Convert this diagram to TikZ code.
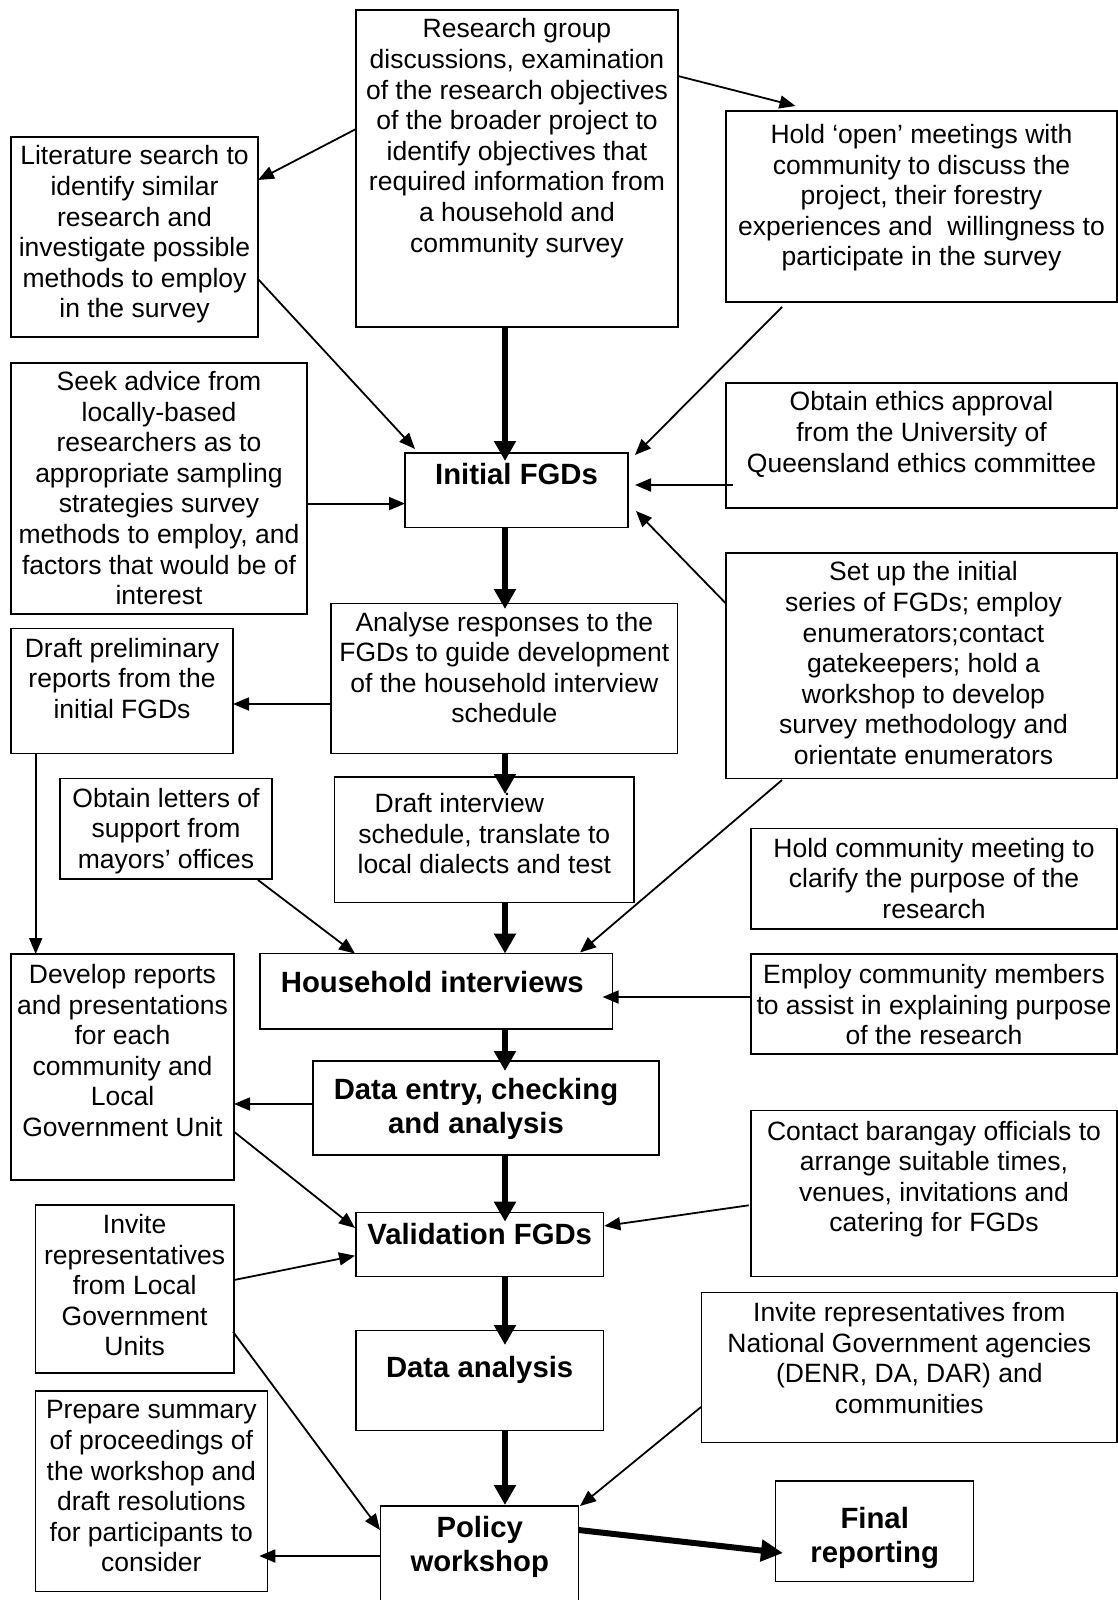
\documentclass[tikz,border=0pt]{standalone}
\usepackage{fontspec}
\setmainfont{Liberation Sans}
\usetikzlibrary{arrows.meta,calc}
\newcommand\mkbox[5]{%
 \pgfmathsetmacro\mkW{#4-#2}%
 \pgfmathsetmacro\mkH{#5-#3}%
 \pgfmathsetmacro\mkX{(#2+#4)/2}%
 \pgfmathsetmacro\mkY{(#3+#5)/2}%
 \node[box,minimum width=\mkW pt,minimum height=\mkH pt] (#1) at (\mkX,\mkY) {};}
\tikzset{
 box/.style={draw, line width=1.5pt, inner sep=0pt, outer sep=0pt, rectangle},
 txt/.style={anchor=north, inner sep=0pt, align=center, font=\fontsize{26.5}{30.6}\selectfont, execute at begin node={\rule{0pt}{20pt}}},
 btxt/.style={anchor=north, inner sep=0pt, align=center, font=\fontsize{29.3}{34}\selectfont\bfseries, execute at begin node={\rule{0pt}{22pt}}},
 thinarr/.style={line width=1.8pt, -{Triangle[length=16pt,width=13pt]}},
 thickarr/.style={line width=6pt, -{Triangle[length=20pt,width=21pt]}},
}
\begin{document}
\begin{tikzpicture}[x=1pt,y=-1pt]
\useasboundingbox (0,0) rectangle (1118,1600);
% boxes
\mkbox{research}{356}{10}{678}{327}
\mkbox{lit}{11}{137}{258}{337}
\mkbox{hold}{726}{111}{1117}{302}
\mkbox{seek}{11}{363}{307}{614}
\mkbox{initial}{405}{453}{628}{527.5}
\mkbox{ethics}{726}{383}{1117}{508}
\mkbox{setup}{726}{553}{1117}{778.6}
\mkbox{prelim}{11}{628.6}{233}{753.6}
\mkbox{analyse}{331}{603.6}{677.6}{753.6}
\mkbox{letters}{60}{778.6}{272}{879}
\mkbox{draftint}{334.6}{777}{634}{902.5}
\mkbox{holdcomm}{751}{828.6}{1117}{929}
\mkbox{household}{260}{953.6}{612.6}{1029}
\mkbox{develop}{11}{954}{234}{1180}
\mkbox{employ}{751}{954}{1117}{1054}
\mkbox{dataentry}{313}{1061}{659}{1155}
\mkbox{contact}{751}{1110.7}{1117}{1276.7}
\mkbox{validation}{356}{1212.7}{603.3}{1276.7}
\mkbox{invite}{35.3}{1205}{234}{1373}
\mkbox{dataanalysis}{356}{1330.7}{603.3}{1430.7}
\mkbox{national}{701.7}{1292.7}{1117}{1442.7}
\mkbox{prepare}{35.3}{1391}{267.3}{1591.7}
\mkbox{policy}{380.7}{1506}{578.7}{1615}
\mkbox{final}{775.7}{1481}{973.7}{1581.7}
% texts
\node[txt] (research-t) at ($(research.north)+(0,8.5)$) {Research group\\discussions, examination\\of the research objectives\\of the broader project to\\identify objectives that\\required information from\\a household and\\community survey};
\node[txt] (lit-t) at ($(lit.north)+(0,8.5)$) {Literature search to\\identify similar\\research and\\investigate possible\\methods to employ\\in the survey};
\node[txt] (hold-t) at ($(hold.north)+(0,13)$) {Hold ‘open’ meetings with\\community to discuss the\\project, their forestry\\experiences and\ \ willingness to\\participate in the survey};
\node[txt] (seek-t) at ($(seek.north)+(0,8)$) {Seek advice from\\locally-based\\researchers as to\\appropriate sampling\\strategies survey\\methods to employ, and\\factors that would be of\\interest};
\node[btxt] (initial-t) at ($(initial.north)+(0,9)$) {Initial FGDs};
\node[txt] (ethics-t) at ($(ethics.north)+(0,8.5)$) {Obtain ethics approval\\from the University of\\Queensland ethics committee};
\node[txt] (setup-t) at ($(setup.north)+(2,8.5)$) {Set up the initial\\series of FGDs; employ\\enumerators;contact\\gatekeepers; hold a\\workshop to develop\\survey methodology and\\orientate enumerators};
\node[txt] (prelim-t) at ($(prelim.north)+(0,9)$) {Draft preliminary\\reports from the\\initial FGDs};
\node[txt] (analyse-t) at ($(analyse.north)+(0,8)$) {Analyse responses to the\\FGDs to guide development\\of the household interview\\schedule};
\node[txt] (letters-t) at ($(letters.north)+(0,9)$) {Obtain letters of\\support from\\mayors’ offices};
\node[txt] (draftint-t) at ($(draftint.north)+(0,16)$) {Draft interview\hspace*{50pt}\\schedule, translate to\\local dialects and test};
\node[txt] (holdcomm-t) at ($(holdcomm.north)+(0,9)$) {Hold community meeting to\\clarify the purpose of the\\research};
\node[btxt] (household-t) at ($(household.north)+(-4,16.2)$) {Household interviews};
\node[txt] (develop-t) at ($(develop.north)+(0,10)$) {Develop reports\\and presentations\\for each\\community and\\Local\\Government Unit};
\node[txt] (employ-t) at ($(employ.north)+(0,10)$) {Employ community members\\to assist in explaining purpose\\of the research};
\node[btxt] (dataentry-t) at ($(dataentry.north)+(-10,17)$) {Data entry, checking\\and analysis};
\node[txt] (contact-t) at ($(contact.north)+(0,10)$) {Contact barangay officials to\\arrange suitable times,\\venues, invitations and\\catering for FGDs};
\node[btxt] (validation-t) at ($(validation.north)+(0,9.3)$) {Validation FGDs};
\node[txt] (invite-t) at ($(invite.north)+(0,9)$) {Invite\\representatives\\from Local\\Government\\Units};
\node[btxt] (dataanalysis-t) at ($(dataanalysis.north)+(0,25)$) {Data analysis};
\node[txt] (national-t) at ($(national.north)+(0,9.5)$) {Invite representatives from\\National Government agencies\\(DENR, DA, DAR) and\\communities};
\node[txt] (prepare-t) at ($(prepare.north)+(0,9.5)$) {Prepare summary\\of proceedings of\\the workshop and\\draft resolutions\\for participants to\\consider};
\node[btxt] (policy-t) at ($(policy.north west)+(99,10)$) {Policy\\workshop};
\node[btxt] (final-t) at ($(final.north)+(0,26)$) {Final\\reporting};
% connectors
\draw[thinarr] ($(research.north west)+(0,119)$) -- ($(lit.north west)+(247,43)$);
\draw[thinarr] ($(research.north west)+(322,66)$) -- ($(hold.north west)+(69.5,-5)$);
\draw[thinarr] ($(lit.north west)+(247,142)$) -- ($(initial.north west)+(10,-4)$);
\draw[thickarr] ($(research.north west)+(149,317)$) -- ($(initial.north west)+(100,8)$);
\draw[thinarr] ($(hold.north west)+(56,196)$) -- ($(initial.north west)+(230,2)$);
\draw[thinarr] ($(seek.north west)+(296,140.6)$) -- ($(initial.north west)+(0,50.6)$);
\draw[thinarr] ($(ethics.north west)+(7,102)$) -- ($(initial.north west)+(230,32)$);
\draw[thinarr] ($(setup.north west)+(0,50.6)$) -- ($(initial.north west)+(231,58)$);
\draw[thickarr] ($(initial.north west)+(100,74.5)$) -- ($(analyse.north west)+(174,5.4)$);
\draw[thinarr] ($(analyse.north west)+(0,100.4)$) -- ($(prelim.north west)+(222,75.4)$);
\draw[thinarr] ($(prelim.north west)+(24.7,125)$) -- ($(develop.north west)+(24.7,0)$);
\draw[thickarr] ($(analyse.north west)+(174,150)$) -- ($(draftint.north west)+(170.4,17)$);
\draw[thickarr] ($(draftint.north west)+(170.4,125.5)$) -- ($(household.north west)+(245,0)$);
\draw[thinarr] ($(letters.north west)+(198,101.4)$) -- ($(household.north west)+(95,0)$);
\draw[thinarr] ($(setup.north west)+(56,227)$) -- ($(household.north west)+(320,-1.1)$);
\draw[thinarr] ($(employ.north west)+(0,43)$) -- ($(household.north west)+(342.6,43.4)$);
\draw[thickarr] ($(household.north west)+(245,75.4)$) -- ($(dataentry.north west)+(192,10)$);
\draw[thinarr] ($(dataentry.north west)+(0,43)$) -- ($(develop.north west)+(223,150)$);
\draw[thinarr] ($(develop.north west)+(223,177.7)$) -- ($(validation.north west)+(-1,15.3)$);
\draw[thickarr] ($(dataentry.north west)+(192,94)$) -- ($(validation.north west)+(149,9)$);
\draw[thinarr] ($(contact.north west)+(-2.3,94.6)$) -- ($(validation.north west)+(248.3,13.3)$);
\draw[thinarr] ($(invite.north west)+(198.7,75)$) -- ($(validation.north west)+(-1,43)$);
\draw[thickarr] ($(validation.north west)+(149,64)$) -- ($(dataanalysis.north west)+(149,14.3)$);
\draw[thinarr] ($(invite.north west)+(197.7,126.7)$) -- ($(policy.north west)+(-0.7,24)$);
\draw[thickarr] ($(dataanalysis.north west)+(149,100)$) -- ($(policy.north west)+(124.3,-1)$);
\draw[thinarr] ($(national.north west)+(-0.7,114.3)$) -- ($(policy.north west)+(199.3,0)$);
\draw[thinarr] ($(policy.north west)+(0,50)$) -- ($(prepare.north west)+(224,165)$);
\draw[line width=6pt, -{Triangle[length=22pt,width=21pt]}] ($(policy.north west)+(198,24)$) -- ($(final.north west)+(7.3,72)$);
\end{tikzpicture}
\end{document}
